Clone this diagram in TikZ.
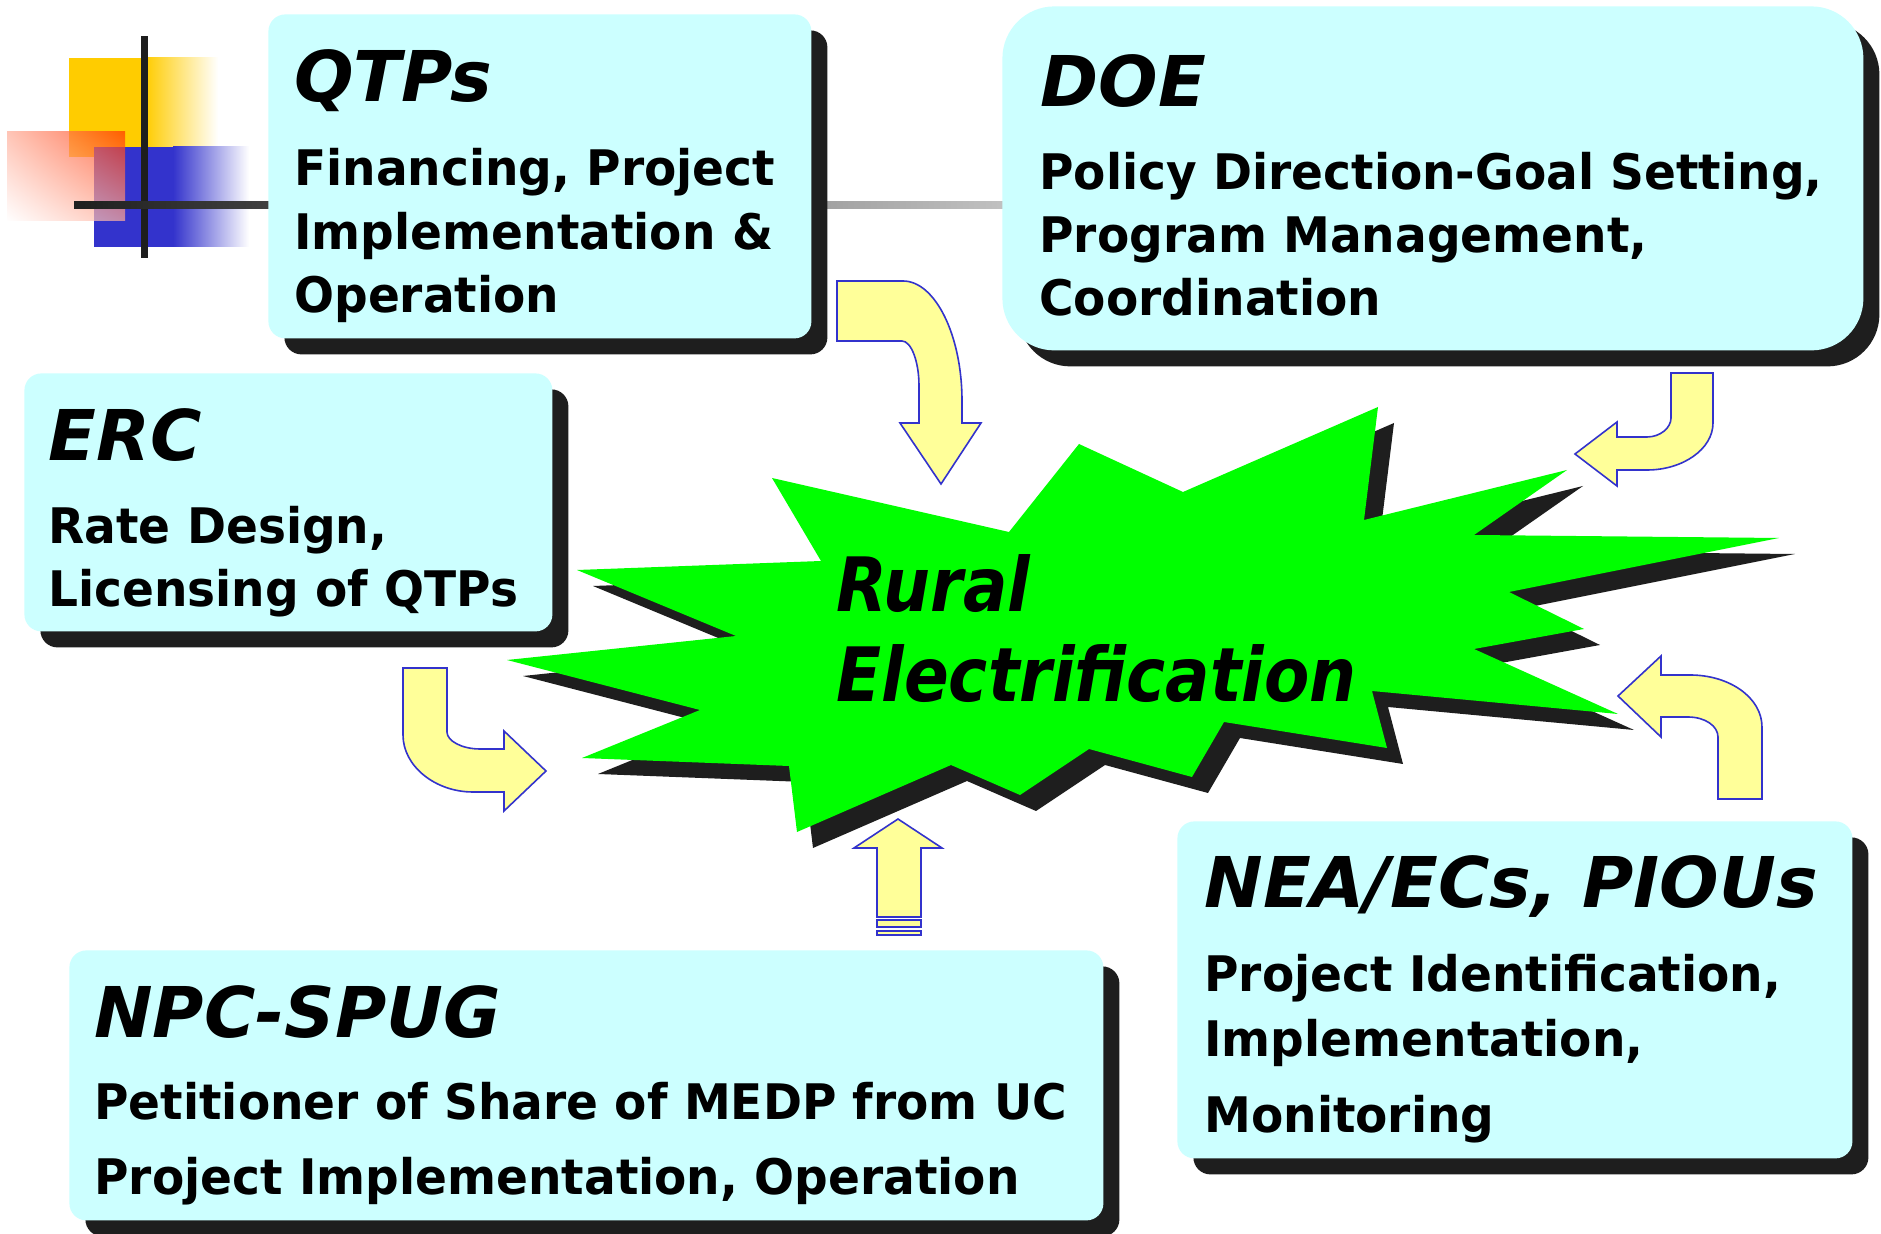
\documentclass[tikz,border=0pt]{standalone}
\usepackage{fontspec}
\setmainfont{DejaVu Sans}
\newfontfamily\bodyfont{DejaVu Sans}[FakeStretch=0.96]
\newfontfamily\titlefont{DejaVu Sans}[FakeStretch=1.0]
\newfontfamily\burstfont{DejaVu Sans}[FakeStretch=0.88]
\usetikzlibrary{shadows,shadings}

\definecolor{boxcyan}{HTML}{CCFFFF}
\definecolor{shadowgray}{HTML}{1E1E1E}
\definecolor{burstgreen}{HTML}{00FF00}
\definecolor{arrowfill}{HTML}{FFFF99}
\definecolor{arrowline}{HTML}{3333CC}
\definecolor{logoyellow}{HTML}{FFCC00}
\definecolor{logoblue}{HTML}{3333CC}
\definecolor{logored}{HTML}{FF3300}

\tikzset{
  rolebox/.style={fill=boxcyan, inner sep=0pt, anchor=north west, rounded corners=8.5pt,
    general shadow={fill=shadowgray, shadow xshift=8pt, shadow yshift=-8pt}},
  boxtitle/.style={anchor=base west, inner sep=0pt, font=\titlefont\fontsize{35}{40}\selectfont\bfseries\itshape},
  boxline/.style={anchor=base west, inner sep=0pt, font=\bodyfont\fontsize{24.5}{28}\selectfont\bfseries},
  bursttext/.style={anchor=base west, inner sep=0pt, font=\burstfont\fontsize{37.5}{42}\selectfont\bfseries\itshape},
  blockarrow/.style={fill=arrowfill, draw=arrowline, line width=0.8pt, line join=miter},
}

% the starburst outline, drawn once as shadow and once in green
\newcommand\burstshape[1]{%
  \fill[#1] (772,478) -- (1009,532) -- (1079,444) -- (1183,492) -- (1378,407)
    -- (1364,520) -- (1567,470) -- (1474,535) -- (1779,538) -- (1509,592)
    -- (1584,629) -- (1474,649) -- (1618,714) -- (1372,691) -- (1387,748)
    -- (1224,722) -- (1192,777) -- (1089,749) -- (1020,795) -- (951,765)
    -- (797,832) -- (789,766) -- (582,758) -- (700,710) -- (507,660)
    -- (736,636) -- (577,570) -- (821,561) -- cycle;}

\begin{document}
\begin{tikzpicture}[x=0.5pt,y=-0.5pt]
\useasboundingbox (0,0) rectangle (1881,1234);
\fill[white] (0,0) rectangle (1881,1234);

% corner logo
\fill[logoyellow] (69,58) rectangle (146,157);
\shade[left color=logoyellow, right color=white] (145,58) rectangle (218,157);
\fill[logoblue] (94,147) rectangle (174,247);
\shade[left color=logoblue, right color=white] (173,147) rectangle (249,247);
\shade[upper right=logored, upper left=logored!40!white, lower right=logored!40!white,
       lower left=white, opacity=0.7] (7,132) rectangle (125,221);
\fill[shadowgray] (141,36) rectangle (148,258);
\shade[left color=black!88, right color=black!24] (74,202) rectangle (1010,209);

% role boxes
\node[rolebox, minimum width=271.5pt, minimum height=162pt] (qtps) at (268,14) {};
\node[rolebox, rounded corners=26pt, minimum width=430.5pt, minimum height=172pt] (doe) at (1002,6) {};
\node[rolebox, minimum width=264pt, minimum height=129pt] (erc) at (24,373) {};
\node[rolebox, minimum width=517pt, minimum height=135pt] (npc) at (69,950) {};
\node[rolebox, minimum width=337.5pt, minimum height=168.5pt] (nea) at (1177,821) {};

% box texts
\node[boxtitle] (qtpsT) at (294,102) {QTPs};
\node[boxline] (qtps1) at (294,186) {Financing, Project};
\node[boxline] (qtps2) at (294,250) {Implementation \&};
\node[boxline] (qtps3) at (294,313) {Operation};

\node[boxtitle] (doeT) at (1040,107) {DOE};
\node[boxline] (doe1) at (1039,190) {Policy Direction-Goal Setting,};
\node[boxline] (doe2) at (1039,253) {Program Management,};
\node[boxline] (doe3) at (1039,316) {Coordination};

\node[boxtitle] (ercT) at (48,461) {ERC};
\node[boxline] (erc1) at (48,544) {Rate Design,};
\node[boxline] (erc2) at (48,607) {Licensing of QTPs};

\node[boxtitle] (npcT) at (94,1037) {NPC-SPUG};
\node[boxline] (npc1) at (94,1119) {Petitioner of Share of MEDP from UC};
\node[boxline] (npc2) at (94,1195) {Project Implementation, Operation};

\node[boxtitle] (neaT) at (1204,908) {NEA/ECs, PIOUs};
\node[boxline] (nea1) at (1204,992) {Project Identification,};
\node[boxline] (nea2) at (1204,1057) {Implementation,};
\node[boxline] (nea3) at (1204,1132) {Monitoring};

% central starburst
\burstshape{shadowgray, shift={(16,16)}}
\burstshape{burstgreen}
\node[bursttext] (rural) at (836,612) {Rural};
\node[bursttext] (electr) at (836,702) {Electrification};

% block arrows pointing at the starburst
\draw[blockarrow] (837,281) -- (903,281) .. controls (935,281) and (962,335) .. (962,401)
  -- (962,423) -- (981,423) -- (941,484) -- (900,423) -- (919,423) -- (919,386)
  .. controls (919,361) and (911,341) .. (902,341) -- (837,341) -- cycle;

\draw[blockarrow] (1671,373) -- (1713,373) -- (1713,423) .. controls (1713,449) and (1683,470) .. (1647,470)
  -- (1617,470) -- (1617,486) -- (1575,454) -- (1617,422) -- (1617,437) -- (1647,437)
  .. controls (1660,437) and (1671,428) .. (1671,418) -- cycle;

\draw[blockarrow] (1718,799) -- (1762,799) -- (1762,727) .. controls (1762,698) and (1730,675) .. (1690,675)
  -- (1661,675) -- (1661,656) -- (1618,696) -- (1661,737) -- (1661,717) -- (1688,717)
  .. controls (1705,717) and (1718,726) .. (1718,737) -- cycle;

\draw[blockarrow] (403,668) -- (447,668) -- (447,732) .. controls (447,741) and (462,749) .. (480,749)
  -- (504,749) -- (504,731) -- (546,771) -- (504,811) -- (504,792) -- (473,792)
  .. controls (435,792) and (403,766) .. (403,735) -- cycle;

\draw[blockarrow] (877,917) -- (877,848) -- (854,848) -- (898,819) -- (942,848) -- (921,848) -- (921,917) -- cycle;
\draw[blockarrow] (877,920) rectangle (921,927);
\draw[blockarrow] (877,931) rectangle (921,935);
\end{tikzpicture}
\end{document}
